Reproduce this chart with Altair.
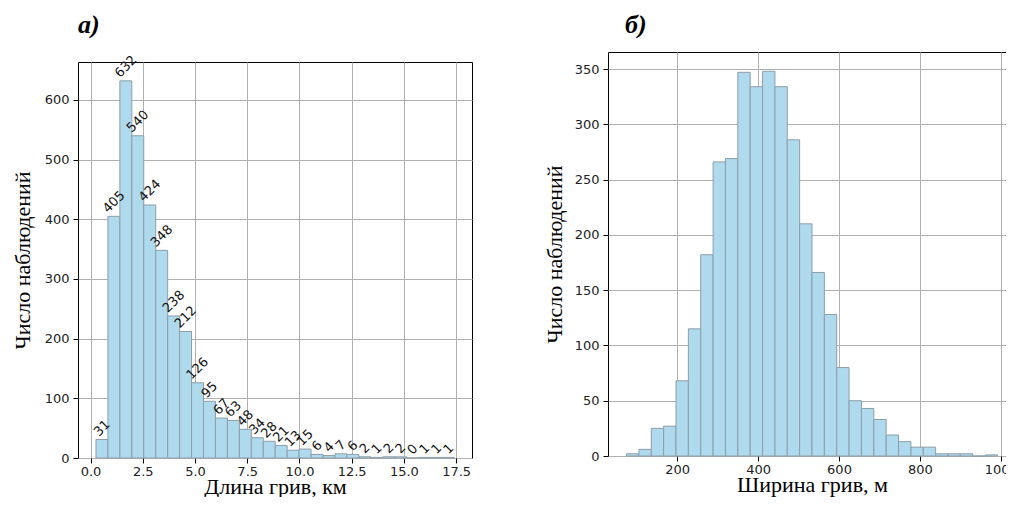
import altair as alt
import pandas as pd

# ---- data ----
len_counts = [31, 405, 632, 540, 424, 348, 238, 212, 126, 95, 67, 63, 48, 34, 28,
              21, 13, 15, 6, 4, 7, 6, 2, 1, 2, 2, 0, 1, 1, 1]
len_bin_start = 0.26
len_bin_width = 0.572

wid_counts = [2, 6, 25, 27, 68, 115, 182, 266, 269, 347, 334, 348, 334, 286, 210,
              166, 128, 80, 50, 43, 33, 19, 13, 8, 8, 2, 2, 2, 0, 1]
wid_bin_start = 74.7
wid_bin_width = 30.57

len_xticks = [0.0, 2.5, 5.0, 7.5, 10.0, 12.5, 15.0, 17.5]
len_yticks = [0, 100, 200, 300, 400, 500, 600]
wid_xticks = [200, 400, 600, 800, 1000]
wid_yticks = [0, 50, 100, 150, 200, 250, 300, 350]

len_xdomain = [-0.6, 18.26]
len_ydomain = [0, 663.6]
wid_xdomain = [28.8, 1037.7]
wid_ydomain = [0, 365.4]

FILL = "#afdaee"
EDGE = "#8c9ea8"
SERIF = "Liberation Serif"
SANS = "DejaVu Sans"


def table(start, width, counts):
    rows = []
    for i, c in enumerate(counts):
        lo = start + i * width
        rows.append({"lo": lo, "hi": lo + width, "mid": lo + width / 2,
                     "n": c, "lab": str(c), "digits": len(str(c))})
    return pd.DataFrame(rows)


len_df = table(len_bin_start, len_bin_width, len_counts)
wid_df = table(wid_bin_start, wid_bin_width, wid_counts)


def axis_x(vals, fmt, title):
    return alt.Axis(values=vals, format=fmt, title=title, grid=True, gridColor="#b0b0b0",
                    gridWidth=1, domain=False, ticks=True, tickSize=5, tickColor="black",
                    labelFont=SANS, labelFontSize=13, labelColor="#222", labelPadding=2,
                    titleFont=SERIF, titleFontSize=22, titleFontWeight="normal",
                    titleColor="black", titlePadding=-2, labelFlush=False)


def axis_y(vals, title, tpad):
    return alt.Axis(values=vals, format="d", title=title, grid=True, gridColor="#b0b0b0",
                    gridWidth=1, domain=False, ticks=True, tickSize=5, tickColor="black",
                    labelFont=SANS, labelFontSize=13, labelColor="#222", labelPadding=4,
                    titleFont=SERIF, titleFontSize=22, titleFontWeight="normal",
                    titleColor="black", titlePadding=tpad, labelFlush=False)


def panel_title(text, dx):
    return alt.TitleParams(text, anchor="start", frame="group", font=SERIF, fontSize=26,
                           fontStyle="italic", fontWeight="bold", color="black",
                           offset=14, dx=dx)


# ---- left panel ----
lx = alt.X("lo:Q", scale=alt.Scale(domain=len_xdomain, nice=False, zero=False),
           axis=axis_x(len_xticks, ".1f", "Длина грив, км"))
ly = alt.Y("n:Q", scale=alt.Scale(domain=len_ydomain, nice=False),
           axis=axis_y(len_yticks, "Число наблюдений", 10))

left_bars = alt.Chart(len_df).mark_bar(fill=FILL, stroke=EDGE, strokeWidth=1).encode(
    x=lx, x2="hi:Q", y=ly, y2=alt.datum(0))

label_layers = []
for digits, d in [(3, 14.3), (2, 11.3), (1, 8.4)]:
    label_layers.append(
        alt.Chart(len_df).transform_filter(alt.datum.digits == digits).mark_text(
            angle=315, align="center", baseline="middle", font=SANS, fontSize=13,
            color="#111", dx=0.707 * d, dy=-0.707 * d
        ).encode(x=alt.X("mid:Q", scale=alt.Scale(domain=len_xdomain, nice=False, zero=False)),
                 y=alt.Y("n:Q", scale=alt.Scale(domain=len_ydomain, nice=False)),
                 text="lab:N")
    )

left = alt.layer(left_bars, *label_layers).properties(width=394, height=396)

# invisible spacer that pushes the left frame 10px below the right one
spacer = alt.Chart(pd.DataFrame({"v": [0]})).mark_point(opacity=0).encode(
    x=alt.X("v:Q", axis=None), y=alt.Y("v:Q", axis=None)
).properties(width=394, height=10,
             view=alt.ViewBackground(strokeOpacity=0, strokeWidth=0))

left_cell = alt.vconcat(spacer, left, spacing=0, bounds="flush",
                        title=panel_title("а)", 0)).resolve_scale(x="independent",
                                                                  y="independent")

# ---- right panel ----
rx = alt.X("lo:Q", scale=alt.Scale(domain=wid_xdomain, nice=False, zero=False),
           axis=axis_x(wid_xticks, "d", "Ширина грив, м"))
ry = alt.Y("n:Q", scale=alt.Scale(domain=wid_ydomain, nice=False),
           axis=axis_y(wid_yticks, "Число наблюдений", 8))

right = alt.Chart(wid_df).mark_bar(fill=FILL, stroke=EDGE, strokeWidth=1).encode(
    x=rx, x2="hi:Q", y=ry, y2=alt.datum(0)
).properties(width=408, height=404, title=panel_title("б)", 17))

chart = alt.hconcat(left_cell, right, spacing=69).resolve_scale(
    x="independent", y="independent"
).configure_view(
    stroke="black", strokeWidth=1
).properties(padding={"left": 2, "top": 3, "right": -12, "bottom": -1},
             background="white")

chart.save("out.html", embed_options={"renderer": "svg", "actions": False})
